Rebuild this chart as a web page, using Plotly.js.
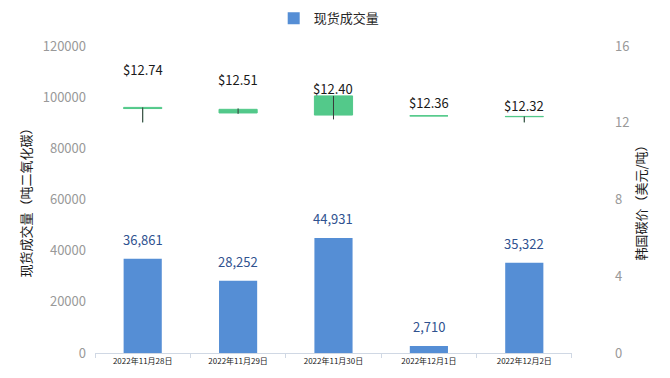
<!DOCTYPE html>
<html>
<head>
<meta charset="utf-8">
<script src="https://cdn.plot.ly/plotly-3.0.1.min.js"></script>
<style>html,body{margin:0;padding:0;background:#fff;}#chart{width:670px;height:378px;}</style>
</head>
<body>
<div id="chart"></div>
<script>
// ---- data ----
const dates = ["2022年11月28日", "2022年11月29日", "2022年11月30日", "2022年12月1日", "2022年12月2日"];
const volume = [36861, 28252, 44931, 2710, 35322];
const priceOpen = [12.80, 12.70, 13.40, 12.36, 12.33];
const priceHigh = [12.80, 12.74, 13.40, 12.36, 12.33];
const priceLow = [12.02, 12.47, 12.18, 12.36, 12.02];
const priceClose = [12.74, 12.51, 12.40, 12.36, 12.32];
const volumeName = "现货成交量";
const leftTitle = "现货成交量（吨二氧化碳）";
const rightTitle = "韩国碳价（美元/吨）";

// ---- styling ----
const FONT = '"Noto Sans CJK SC", "Noto Sans", sans-serif';
const BAR = '#558ED5';
const GREEN = '#53C98A';
// label centre heights (right-axis units) for the price labels
const priceLabelPos = [14.75, 14.23, 13.76, 13.03, 12.92];

const wickX = [], wickY = [];
dates.forEach((d, i) => {
  wickX.push(d, d, null);
  wickY.push(priceLow[i], priceHigh[i], null);
});

const traces = [
  {
    type: 'bar', name: volumeName, x: dates, y: volume,
    marker: {color: BAR}, width: 0.4, hoverinfo: 'skip',
    xaxis: 'x', yaxis: 'y'
  },
  {
    type: 'candlestick', x: dates, open: priceOpen, high: priceHigh, low: priceLow, close: priceClose,
    xaxis: 'x', yaxis: 'y2', showlegend: false, hoverinfo: 'skip', whiskerwidth: 0,
    increasing: {line: {color: GREEN, width: 1}, fillcolor: GREEN},
    decreasing: {line: {color: GREEN, width: 1}, fillcolor: GREEN}
  },
  {
    type: 'scatter', mode: 'lines', x: wickX, y: wickY, xaxis: 'x', yaxis: 'y2',
    line: {color: '#3a3a3a', width: 1}, showlegend: false, hoverinfo: 'skip', connectgaps: false
  }
];

const annotations = [];
dates.forEach((d, i) => {
  annotations.push({
    x: d, y: volume[i], xref: 'x', yref: 'y', yanchor: 'bottom', yshift: 8,
    text: volume[i].toLocaleString('en-US'), showarrow: false,
    font: {family: FONT, size: 13, color: '#2F528F'}
  });
  annotations.push({
    x: d, y: priceLabelPos[i], xref: 'x', yref: 'y2', yanchor: 'middle',
    text: '$' + priceClose[i].toFixed(2), showarrow: false,
    font: {family: FONT, size: 13, color: '#1a1a1a'}
  });
});

const layout = {
  width: 670, height: 378,
  margin: {l: 95, r: 58, t: 46, b: 25, autoexpand: false},
  paper_bgcolor: '#fff', plot_bgcolor: '#fff',
  font: {family: FONT, size: 13, color: '#8c8c8c'},
  showlegend: true,
  legend: {orientation: 'h', x: 0.453, xanchor: 'center', y: 1.09, yanchor: 'middle',
           font: {family: FONT, size: 13, color: '#262626'}},
  boxgap: 0.6, boxgroupgap: 0,
  xaxis: {
    type: 'category', domain: [0, 0.9226], rangeslider: {visible: false},
    showline: true, linecolor: '#d0d8e4', linewidth: 1,
    ticks: 'outside', tickson: 'boundaries', ticklen: 4, tickcolor: '#d0d8e4',
    showgrid: false, zeroline: false,
    tickfont: {family: FONT, size: 8, color: '#1a1a1a'}
  },
  yaxis: {
    range: [0, 120000], dtick: 20000, showgrid: false, zeroline: false, showline: false,
    tickformat: 'd', ticklabelstandoff: 8,
    tickfont: {family: FONT, size: 13, color: '#999999'},
    title: {text: leftTitle, font: {family: FONT, size: 13, color: '#1a1a1a'}, standoff: 8}
  },
  yaxis2: {
    overlaying: 'y', side: 'right', anchor: 'free', position: 1,
    range: [0, 16], dtick: 4, showgrid: false, zeroline: false, showline: false,
    ticklabelstandoff: 2,
    tickfont: {family: FONT, size: 13, color: '#999999'},
    title: {text: rightTitle, font: {family: FONT, size: 13, color: '#1a1a1a'}, standoff: 8}
  },
  annotations: annotations
};

Plotly.newPlot('chart', traces, layout, {displayModeBar: false, staticPlot: true});
</script>
</body>
</html>
